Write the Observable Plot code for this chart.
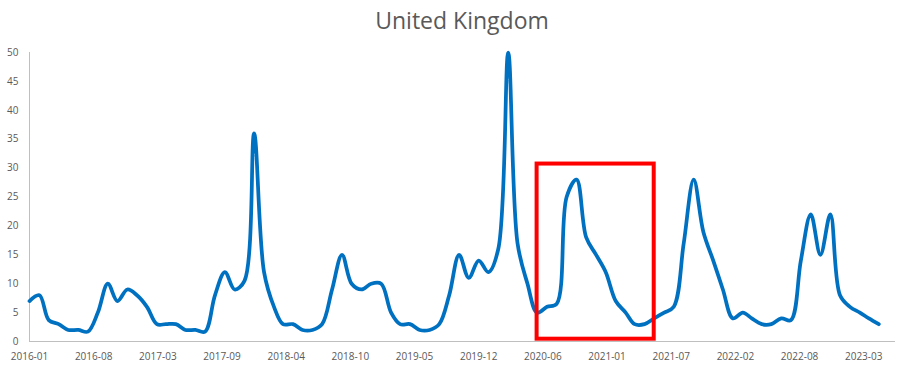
<!DOCTYPE html>
<html><head><meta charset="utf-8">
<script src="https://cdn.jsdelivr.net/npm/d3@7"></script>
<script src="https://cdn.jsdelivr.net/npm/@observablehq/plot@0.6"></script>
<style>
body{margin:0;background:#fff;}
#title{height:40px;line-height:40px;box-sizing:border-box;padding:0 17px 0 29px;text-align:center;font-family:"Open Sans",sans-serif;font-size:23px;color:#595959;white-space:nowrap;}
</style></head><body>
<div id="chart"><div id="title">United Kingdom</div></div>
<script>
// Monthly series, starting 2016-01
const startMonth = "2016-01-01";
const values = [
  7, 8, 3.7, 3, 2, 2, 1.7, 5, 10, 7, 9, 8,          // 2016
  6, 3, 3, 3, 2, 2, 1.7, 8, 12, 9, 10.5, 36,        // 2017
  12, 6, 3, 3, 2, 2, 3, 9, 15, 10, 9, 10,           // 2018
  10, 5, 3, 3, 2, 2, 3, 8, 15, 11, 14, 12,          // 2019
  16, 50, 17, 10, 5, 6, 6.5, 25, 28, 18, 15, 12,    // 2020
  7, 5, 3, 3, 4, 5, 6, 17, 28, 19, 14, 9,           // 2021
  4, 5, 4, 3, 3, 4, 3.7, 14, 22, 15, 22, 8,         // 2022
  6, 5, 4, 3                                         // 2023
];
const tickLabels = ["2016-01","2016-08","2017-03","2017-09","2018-04","2018-10","2019-05","2019-12","2020-06","2021-01","2021-07","2022-02","2022-08","2023-03"];
const tickStepDays = 200;
const axisEndDays = 2699;
const yTicks = [0,5,10,15,20,25,30,35,40,45,50];
const highlight = [{from:"2020-05-01", to:"2021-05-01", low:0.4, high:30.7}];

const start = new Date(startMonth + "T00:00:00Z");
const rows = values.map((v, i) => ({date: d3.utcMonth.offset(start, i), value: v}));
const tickDates = tickLabels.map((_, k) => d3.utcDay.offset(start, k * tickStepDays));
const labelMap = new Map(tickDates.map((d, k) => [+d, tickLabels[k]]));
const boxes = highlight.map(h => ({x1: new Date(h.from + "T00:00:00Z"), x2: new Date(h.to + "T00:00:00Z"), y1: h.low, y2: h.high}));

const plot = Plot.plot({
  width: 912,
  height: 327,
  marginTop: 12,
  marginBottom: 26,
  marginLeft: 29,
  marginRight: 17,
  style: {fontFamily: "'Open Sans', sans-serif", fontSize: "10px", color: "#595959", background: "#fff"},
  x: {type: "utc", domain: [start, d3.utcDay.offset(start, axisEndDays)], ticks: tickDates, tickFormat: d => labelMap.get(+d), tickSize: 0, tickPadding: 11, label: null},
  y: {domain: [0, 50], ticks: yTicks, tickSize: 0, tickPadding: 11, label: null},
  marks: [
    Plot.ruleX([start], {stroke: "#bfbfbf", strokeWidth: 1}),
    Plot.ruleY([0], {stroke: "#bfbfbf", strokeWidth: 1}),
    Plot.line(rows, {x: "date", y: "value", stroke: "#0070C0", strokeWidth: 3.75, curve: "catmull-rom", strokeLinejoin: "round", strokeLinecap: "round"}),
    Plot.rect(boxes, {x1: "x1", x2: "x2", y1: "y1", y2: "y2", fill: "none", stroke: "#FF0000", strokeWidth: 4})
  ]
});
document.getElementById("chart").appendChild(plot);
</script>
</body></html>
